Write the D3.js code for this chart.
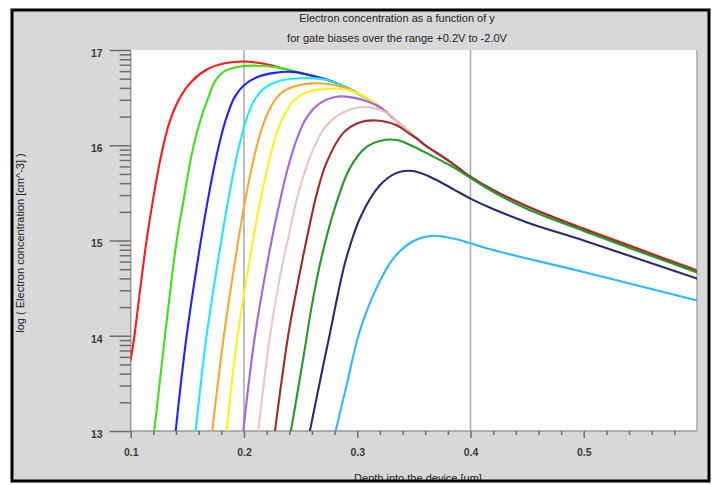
<!DOCTYPE html>
<html>
<head>
<meta charset="utf-8">
<script src="https://cdn.jsdelivr.net/npm/d3@7"></script>
<style>
  html, body { margin: 0; padding: 0; background: #ffffff; }
  svg { display: block; }
  text { font-family: "Liberation Sans", Arial, sans-serif; }
</style>
</head>
<body>
<svg id="chart" width="717" height="485"></svg>
<script>
// Electron concentration (log10, cm^-3) versus depth (um), one series per gate bias.
const biases = ["+0.2V", "0.0V", "-0.2V", "-0.4V", "-0.6V", "-0.8V",
                "-1.0V", "-1.2V", "-1.4V", "-1.6V", "-1.8V", "-2.0V"];

const vgP02 = [[0.1,13.745],[0.1033,14.0],[0.1085,14.5],[0.114,15.0],[0.12,15.45],[0.127,15.9],
  [0.1345,16.25],[0.1435,16.5],[0.1538,16.67],[0.168,16.80],[0.183,16.86],[0.199,16.88],[0.218,16.855],
  [0.24,16.79],[0.26,16.73],[0.28,16.66],[0.30,16.55],[0.32,16.40],[0.34,16.20],[0.36,16.0],
  [0.38,15.84],[0.40,15.665],[0.42,15.525],[0.45,15.355],[0.50,15.125],[0.55,14.905],[0.60,14.69]];
const vg00 = [[0.1208,13.0],[0.1303,14.0],[0.1406,15.0],[0.1465,15.41],[0.1538,15.90],[0.1612,16.25],
  [0.1685,16.5],[0.1744,16.67],[0.1833,16.78],[0.198,16.83],[0.213,16.835],[0.228,16.82],[0.242,16.785],
  [0.26,16.73],[0.28,16.66],[0.30,16.55],[0.32,16.40],[0.34,16.20],[0.36,16.0],[0.38,15.84],[0.40,15.66],
  [0.42,15.52],[0.45,15.35],[0.50,15.12],[0.55,14.9],[0.60,14.685]];
const vgM02 = [[0.1397,13.0],[0.1494,14.0],[0.162,15.0],[0.1685,15.45],[0.176,15.9],[0.1835,16.25],
  [0.1915,16.5],[0.2,16.63],[0.2126,16.72],[0.227,16.76],[0.242,16.77],[0.255,16.745],[0.27,16.70],
  [0.28,16.66],[0.30,16.55],[0.32,16.40],[0.34,16.20],[0.36,16.0],[0.38,15.84],[0.40,15.66],
  [0.42,15.52],[0.45,15.35],[0.50,15.115],[0.55,14.895],[0.60,14.68]];
const vgM04 = [[0.1574,13.0],[0.167,14.0],[0.180,15.0],[0.1865,15.45],[0.194,15.9],[0.2015,16.25],
  [0.2095,16.48],[0.218,16.6],[0.23,16.67],[0.245,16.70],[0.258,16.705],[0.2715,16.69],[0.285,16.635],
  [0.30,16.55],[0.32,16.40],[0.34,16.20],[0.36,16.0],[0.38,15.84],[0.40,15.66],[0.42,15.52],
  [0.45,15.35],[0.50,15.115],[0.55,14.895],[0.60,14.68]];
const vgM06 = [[0.172,13.0],[0.1823,14.0],[0.195,15.0],[0.2015,15.45],[0.209,15.88],[0.2165,16.2],
  [0.2245,16.42],[0.233,16.55],[0.245,16.62],[0.26,16.65],[0.276,16.64],[0.29,16.60],[0.30,16.55],
  [0.32,16.40],[0.34,16.20],[0.36,16.0],[0.38,15.84],[0.40,15.665],[0.42,15.525],[0.45,15.355],
  [0.50,15.12],[0.55,14.9],[0.60,14.685]];
const vgM08 = [[0.1847,13.0],[0.1944,14.0],[0.208,15.0],[0.2145,15.42],[0.222,15.83],[0.2295,16.15],
  [0.237,16.35],[0.245,16.48],[0.256,16.56],[0.272,16.59],[0.287,16.59],[0.302,16.54],[0.32,16.40],
  [0.34,16.20],[0.36,16.0],[0.38,15.84],[0.40,15.66],[0.42,15.52],[0.45,15.35],[0.50,15.115],
  [0.55,14.895],[0.60,14.68]];
const vgM10 = [[0.1994,13.0],[0.2097,14.0],[0.2244,15.0],[0.2315,15.4],[0.2385,15.75],[0.2465,16.06],
  [0.2553,16.29],[0.267,16.44],[0.2818,16.51],[0.2965,16.50],[0.311,16.45],[0.32,16.40],[0.34,16.20],
  [0.36,16.0],[0.38,15.84],[0.40,15.66],[0.42,15.52],[0.45,15.35],[0.50,15.115],[0.55,14.895],
  [0.60,14.68]];
const vgM12 = [[0.2126,13.0],[0.223,14.0],[0.2315,14.6],[0.2395,15.05],[0.247,15.45],[0.2545,15.75],
  [0.262,15.98],[0.2705,16.17],[0.2825,16.31],[0.2965,16.385],[0.31,16.40],[0.326,16.34],[0.34,16.20],
  [0.36,16.0],[0.38,15.84],[0.40,15.66],[0.42,15.52],[0.45,15.35],[0.50,15.115],[0.55,14.895],
  [0.60,14.68]];
const vgM14 = [[0.2274,13.0],[0.239,14.0],[0.2475,14.55],[0.256,15.05],[0.2645,15.5],[0.273,15.82],
  [0.2877,16.13],[0.302,16.24],[0.317,16.26],[0.3348,16.21],[0.345,16.13],[0.355,16.05],[0.36,16.0],
  [0.38,15.845],[0.40,15.67],[0.42,15.53],[0.45,15.36],[0.50,15.12],[0.55,14.9],[0.60,14.68]];
const vgM16 = [[0.2415,13.0],[0.2523,13.76],[0.261,14.39],[0.27,14.9],[0.2818,15.4],[0.2935,15.76],
  [0.308,15.98],[0.32,16.045],[0.335,16.055],[0.349,15.99],[0.364,15.90],[0.3847,15.77],[0.405,15.62],
  [0.42,15.51],[0.45,15.33],[0.50,15.1],[0.55,14.88],[0.60,14.665]];
const vgM18 = [[0.2582,13.0],[0.27,13.69],[0.2755,14.0],[0.2818,14.37],[0.29,14.8],[0.303,15.25],
  [0.32,15.58],[0.3348,15.71],[0.349,15.73],[0.364,15.67],[0.3847,15.54],[0.40,15.44],[0.42,15.33],
  [0.45,15.19],[0.50,15.0],[0.55,14.8],[0.60,14.6]];
const vgM20 = [[0.281,13.0],[0.2906,13.48],[0.302,14.04],[0.317,14.50],[0.3318,14.81],[0.349,14.99],
  [0.367,15.05],[0.385,15.02],[0.40,14.97],[0.42,14.90],[0.45,14.81],[0.50,14.67],[0.55,14.52],
  [0.60,14.37]];

const seriesValues = [vgP02, vg00, vgM02, vgM04, vgM06, vgM08, vgM10, vgM12, vgM14, vgM16, vgM18, vgM20];

// Axis ticks and labels
const xMajorTicks = [0.1, 0.2, 0.3, 0.4, 0.5];
const xMinorTicks = [0.12, 0.14, 0.16, 0.18, 0.22, 0.24, 0.26, 0.28, 0.32, 0.34, 0.36, 0.38,
                     0.42, 0.44, 0.46, 0.48, 0.52, 0.54, 0.56, 0.58];
const xGridTicks = [0.2, 0.4, 0.6];
const yMajorTicks = [13, 14, 15, 16, 17];
const titleLines = ["Electron concentration as a function of y",
                    "for gate biases over the range +0.2V to -2.0V"];
const xTitle = "Depth into the device [um]";
const yTitle = "log ( Electron concentration [cm^-3] )";

// Line colours, one per bias
const colors = ["#ff1a1a", "#3fe01a", "#2222ff", "#1ee8ff", "#ffa630", "#fbf21a",
                "#a466dd", "#eec3c3", "#a12a2a", "#24992a", "#2a2a6e", "#2bb8ff"];

const svg = d3.select("#chart");
const frame = { x: 12, y: 10, w: 697, h: 471 };
const plot = { left: 130.7, right: 697, top: 50, bottom: 431 };

const x = d3.scaleLinear().domain([0.1, 0.6]).range([plot.left, plot.right]);
const y = d3.scaleLinear().domain([13, 17]).range([plot.bottom, plot.top]);

// log-decade minor ticks inside each decade
const yMinorTicks = [];
for (let d = 13; d < 17; d++) for (let k = 2; k <= 9; k++) yMinorTicks.push(d + Math.log10(k));

const defs = svg.append("defs");
defs.append("clipPath").attr("id", "frameClip").append("rect")
  .attr("x", frame.x).attr("y", frame.y).attr("width", frame.w).attr("height", frame.h);
defs.append("clipPath").attr("id", "plotClip").append("rect")
  .attr("x", plot.left).attr("y", plot.top - 2)
  .attr("width", plot.right - plot.left).attr("height", plot.bottom - plot.top + 2);

const root = svg.append("g").attr("clip-path", "url(#frameClip)");

root.append("rect")
  .attr("x", frame.x).attr("y", frame.y).attr("width", frame.w).attr("height", frame.h)
  .attr("fill", "#d8d8d8");

root.append("rect")
  .attr("x", plot.left).attr("y", plot.top)
  .attr("width", plot.right - plot.left).attr("height", plot.bottom - plot.top)
  .attr("fill", "#ffffff");

// vertical grid lines
root.append("g").selectAll("line").data(xGridTicks).join("line")
  .attr("x1", d => x(d)).attr("x2", d => x(d))
  .attr("y1", plot.top).attr("y2", plot.bottom)
  .attr("stroke", "#a8a8a8").attr("stroke-width", 1.5);

// axis lines
root.append("line")
  .attr("x1", plot.left).attr("x2", plot.left).attr("y1", plot.top).attr("y2", plot.bottom)
  .attr("stroke", "#9a9a9a").attr("stroke-width", 1.5);
root.append("line")
  .attr("x1", plot.left).attr("x2", plot.right).attr("y1", plot.bottom).attr("y2", plot.bottom)
  .attr("stroke", "#9a9a9a").attr("stroke-width", 1.5);

// curves
const line = d3.line().x(d => x(d[0])).y(d => y(d[1])).curve(d3.curveCatmullRom.alpha(0.5));
root.append("g").attr("clip-path", "url(#plotClip)")
  .selectAll("path").data(seriesValues).join("path")
  .attr("d", line)
  .attr("fill", "none")
  .attr("stroke", (d, i) => colors[i])
  .attr("stroke-width", 2.1)
  .attr("stroke-linejoin", "round")
  .attr("stroke-linecap", "round");

function styleAxis(g) {
  g.select(".domain").remove();
  g.selectAll(".tick line").attr("stroke", "#6e6e6e").attr("stroke-width", 1.5);
  g.selectAll(".tick text")
    .attr("fill", "#3a3a3a")
    .style("font-family", "'Liberation Sans', Arial, sans-serif")
    .style("font-size", "10.5px")
    .style("font-weight", "bold");
}

// y axis: major and minor ticks
root.append("g").attr("transform", `translate(${plot.left},0)`)
  .call(d3.axisLeft(y).tickValues(yMinorTicks).tickSize(11).tickFormat(""))
  .call(styleAxis);
const yAxis = root.append("g").attr("transform", `translate(${plot.left},0)`)
  .call(d3.axisLeft(y).tickValues(yMajorTicks).tickSize(21).tickPadding(7).tickFormat(d3.format("d")))
  .call(styleAxis);
yAxis.selectAll(".tick text").attr("dy", "0.6em");

// x axis: major and minor ticks
root.append("g").attr("transform", `translate(0,${plot.bottom})`)
  .call(d3.axisBottom(x).tickValues(xMinorTicks).tickSize(4).tickFormat(""))
  .call(styleAxis);
root.append("g").attr("transform", `translate(0,${plot.bottom})`)
  .call(d3.axisBottom(x).tickValues(xMajorTicks).tickSize(7).tickPadding(11).tickFormat(d3.format(".1f")))
  .call(styleAxis);

// titles
root.append("g").selectAll("text").data(titleLines).join("text")
  .attr("x", 397).attr("y", (d, i) => 22 + i * 20)
  .attr("text-anchor", "middle")
  .attr("fill", "#222")
  .style("font-size", "11px")
  .text(d => d);

root.append("text")
  .attr("x", 418).attr("y", 481.5)
  .attr("text-anchor", "middle")
  .attr("fill", "#222")
  .style("font-size", "11px")
  .text(xTitle);

root.append("text")
  .attr("transform", "translate(24,243) rotate(-90)")
  .attr("text-anchor", "middle")
  .attr("fill", "#222")
  .style("font-size", "11px")
  .text(yTitle);

// outer frame
svg.append("rect")
  .attr("x", frame.x).attr("y", frame.y).attr("width", frame.w).attr("height", frame.h)
  .attr("fill", "none").attr("stroke", "#000").attr("stroke-width", 3);
</script>
</body>
</html>
